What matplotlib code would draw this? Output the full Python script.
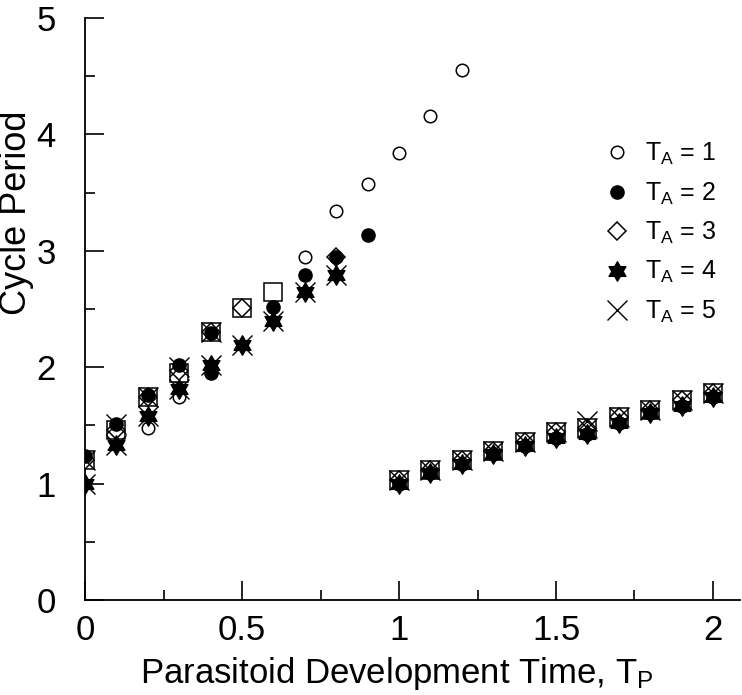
import numpy as np
import matplotlib.pyplot as plt
from matplotlib.path import Path
from matplotlib.ticker import MultipleLocator

plt.rcParams['font.family'] = ['Liberation Sans', 'DejaVu Sans']
plt.rcParams['mathtext.default'] = 'regular'

# lower branch (all T_A collapse onto it)
tp_low = [1.0, 1.1, 1.2, 1.3, 1.4, 1.5, 1.6, 1.7, 1.8, 1.9, 2.0]
sq_low = [1.03, 1.12, 1.20, 1.28, 1.36, 1.44, 1.48, 1.57, 1.63, 1.72, 1.78]
star_low = [1.00, 1.09, 1.17, 1.25, 1.32, 1.39, 1.43, 1.52, 1.61, 1.67, 1.74]

# T_A = 1 (open circles)
tp1 = [0, 0.1, 0.2, 0.3, 0.3, 0.7, 0.8, 0.9, 1.0, 1.1, 1.2]
per1 = [1.2, 1.47, 1.48, 1.74, 1.92, 2.95, 3.34, 3.57, 3.84, 4.16, 4.55]

# T_A = 2 (filled circles)
tp2 = [0, 0.1, 0.2, 0.3, 0.4, 0.4, 0.6, 0.7, 0.8, 0.9] + tp_low
per2 = [1.24, 1.51, 1.76, 2.02, 2.29, 1.95, 2.52, 2.79, 2.95, 3.14] + star_low

# T_A = 3 (diamonds)
tp3 = [0, 0.1, 0.2, 0.3, 0.4, 0.5, 0.8] + tp_low
per3 = [1.2, 1.46, 1.74, 1.97, 2.3, 2.51, 2.95] + sq_low

# unlabeled squares
tp_sq = [0, 0.1, 0.2, 0.3, 0.4, 0.5, 0.6] + tp_low
per_sq = [1.2, 1.46, 1.74, 1.95, 2.3, 2.51, 2.65] + sq_low

# T_A = 4 (six-point stars)
tp4 = [0, 0.1, 0.2, 0.3, 0.4, 0.5, 0.6, 0.7, 0.8] + tp_low
per4 = [1.0, 1.33, 1.58, 1.81, 2.02, 2.19, 2.40, 2.65, 2.79] + star_low

# T_A = 5 (crosses)
tp5 = [0, 0, 0.1, 0.1, 0.2, 0.2, 0.3, 0.3, 0.4, 0.4, 0.5, 0.6, 0.7, 0.8, 1.6] + tp_low
per5 = [1.2, 1.0, 1.51, 1.33, 1.74, 1.58, 2.0, 1.81, 2.3, 2.02, 2.19, 2.40, 2.65, 2.79, 1.54] + sq_low

star6 = Path.unit_regular_star(6, 0.577)

fig = plt.figure(figsize=(7.42, 6.95), dpi=100)
ax = fig.add_axes([0.1146, 0.1367, 0.8827, 0.8374])

ax.plot(tp1, per1, 'o', ms=9, mfc='white', mec='black', mew=1.1, ls='none',
        label='T$_A$ = 1', zorder=2)
ax.plot(tp_sq, per_sq, 's', ms=13, mfc='white', mec='black', mew=1.1, ls='none', zorder=3)
ax.plot(tp3, per3, 'D', ms=9, mfc='none', mec='black', mew=1.1, ls='none',
        label='T$_A$ = 3', zorder=4)
ax.plot(tp5, per5, 'x', ms=14, mec='black', mew=1.0, ls='none',
        label='T$_A$ = 5', zorder=5)
ax.plot(tp2, per2, 'o', ms=9.5, mfc='black', mec='black', ls='none',
        label='T$_A$ = 2', zorder=6)
ax.plot(tp4, per4, marker=star6, ms=14, mfc='black', mec='black', ls='none',
        label='T$_A$ = 4', zorder=7)

ax.set_xlim(0, 2.086)
ax.set_ylim(0, 5)
ax.spines['top'].set_visible(False)
ax.spines['right'].set_visible(False)
ax.spines['left'].set_linewidth(1.3)
ax.spines['bottom'].set_linewidth(1.3)

ax.xaxis.set_major_locator(MultipleLocator(0.5))
ax.xaxis.set_minor_locator(MultipleLocator(0.25))
ax.yaxis.set_major_locator(MultipleLocator(1))
ax.yaxis.set_minor_locator(MultipleLocator(0.5))
ax.set_xticks([0, 0.5, 1, 1.5, 2])
ax.set_xticklabels(['0', '0.5', '1', '1.5', '2'])
ax.tick_params(which='major', direction='in', length=14, width=1.2, labelsize=25)
ax.tick_params(which='minor', direction='in', length=7, width=1.2)
ax.tick_params(axis='x', which='major', pad=10)
ax.tick_params(axis='y', which='major', pad=21)

ax.set_xlabel('Parasitoid Development Time, T$_P$', fontsize=25)
ax.xaxis.set_label_coords(0.476, -0.095)
ax.set_ylabel('Cycle Period', fontsize=26)
ax.yaxis.set_label_coords(-0.078, 0.665)

handles, labels = ax.get_legend_handles_labels()
order = [labels.index(f'T$_A$ = {i}') for i in range(1, 6)]
ax.legend([handles[i] for i in order], [labels[i] for i in order],
          loc='upper left', bbox_to_anchor=(0.778, 0.806), frameon=False,
          fontsize=18, handlelength=1.0, handletextpad=0.6, labelspacing=0.53,
          borderaxespad=0)

fig.savefig('out.png', dpi=100)
